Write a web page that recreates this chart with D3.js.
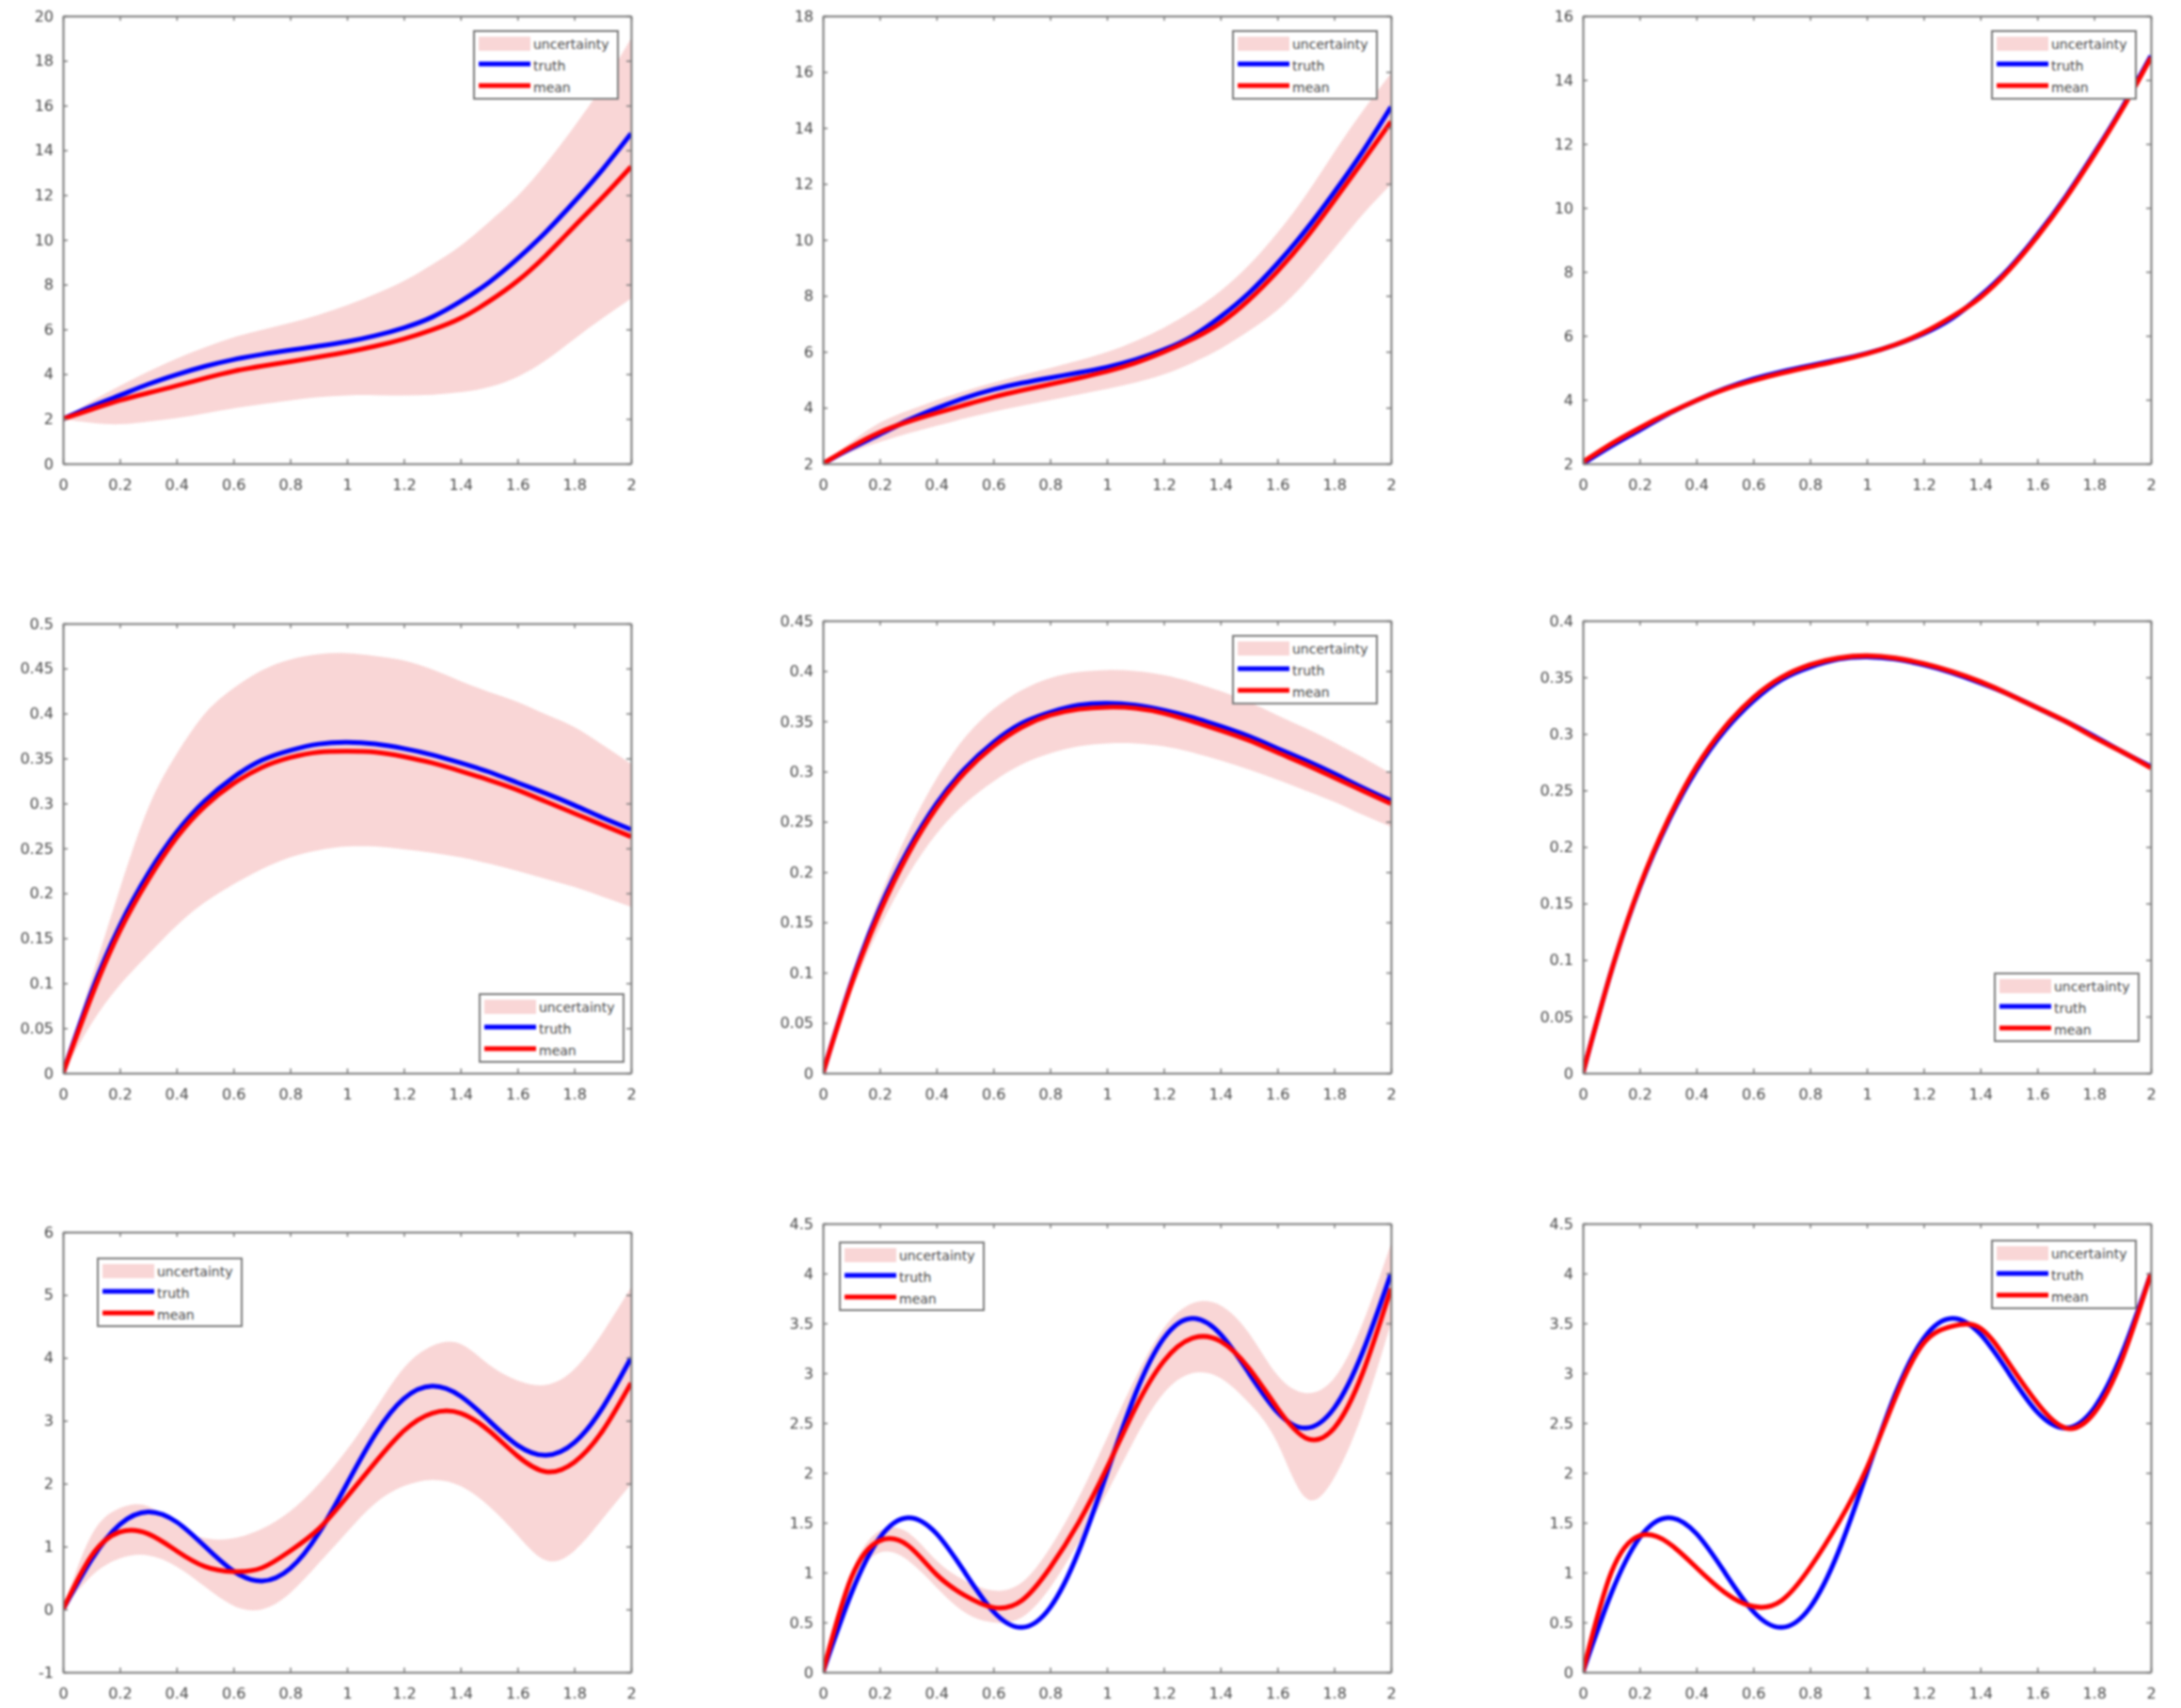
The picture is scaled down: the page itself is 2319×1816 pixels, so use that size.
<!DOCTYPE html>
<html>
<head>
<meta charset="utf-8">
<script src="https://cdn.jsdelivr.net/npm/d3@7/dist/d3.min.js"></script>
<style>
  body { margin: 0; background: #fff; }
  svg { display: block; filter: blur(0.8px); }
  text { font-family: "DejaVu Sans", Arial, sans-serif; }
</style>
</head>
<body>
<svg id="chart" width="2319" height="1816"></svg>
<script>
// sample positions along x
var xs = [0, 0.1, 0.2, 0.3, 0.4, 0.5, 0.6, 0.7, 0.8, 0.9, 1, 1.1, 1.2, 1.3, 1.4, 1.5, 1.6, 1.7, 1.8, 1.9, 2];
var xTicks = [0, 0.2, 0.4, 0.6, 0.8, 1, 1.2, 1.4, 1.6, 1.8, 2];
var legendLabels = ["uncertainty", "truth", "mean"];

// row 1 truth
var truth1 = [2.0, 2.55, 3.05, 3.55, 3.98, 4.35, 4.65, 4.88, 5.07, 5.25, 5.45, 5.72, 6.07, 6.55, 7.25, 8.1, 9.15, 10.35, 11.7, 13.15, 14.75];
// row 2 truth
var truth2 = [0, 0.09, 0.164, 0.222, 0.268, 0.303, 0.329, 0.348, 0.359, 0.366, 0.368, 0.366, 0.361, 0.354, 0.345, 0.335, 0.323, 0.311, 0.298, 0.284, 0.271];
// row 3 truth
var truth3 = [0, 0.79, 1.35, 1.55, 1.39, 1.0, 0.61, 0.45, 0.65, 1.21, 2.0, 2.79, 3.35, 3.55, 3.39, 3.0, 2.61, 2.45, 2.65, 3.21, 4.0];

var mean1 = [2.0, 2.42, 2.83, 3.16, 3.48, 3.82, 4.13, 4.36, 4.56, 4.77, 4.99, 5.25, 5.57, 5.98, 6.5, 7.25, 8.16, 9.3, 10.6, 11.9, 13.27];
var upper1 = [2.0, 2.78, 3.48, 4.12, 4.7, 5.2, 5.64, 5.98, 6.29, 6.65, 7.08, 7.58, 8.16, 8.9, 9.74, 10.8, 11.95, 13.4, 15.06, 16.9, 19.0];
var lower1 = [2.0, 1.83, 1.76, 1.88, 2.04, 2.25, 2.47, 2.66, 2.83, 2.97, 3.05, 3.06, 3.05, 3.08, 3.19, 3.42, 3.88, 4.62, 5.57, 6.5, 7.37];

var mean2 = [2.0, 2.6, 3.12, 3.5, 3.81, 4.1, 4.38, 4.62, 4.84, 5.06, 5.3, 5.6, 5.99, 6.45, 7.03, 7.85, 8.87, 10.05, 11.4, 12.8, 14.22];
var upper2 = [2.0, 2.78, 3.46, 3.9, 4.27, 4.6, 4.9, 5.17, 5.42, 5.69, 5.99, 6.38, 6.86, 7.45, 8.18, 9.1, 10.25, 11.6, 13.13, 14.6, 15.95];
var lower2 = [2.0, 2.42, 2.77, 3.08, 3.35, 3.62, 3.86, 4.07, 4.27, 4.47, 4.67, 4.9, 5.19, 5.6, 6.11, 6.75, 7.49, 8.5, 9.68, 10.9, 11.98];

var mean3 = [2.05, 2.62, 3.12, 3.57, 3.98, 4.33, 4.6, 4.83, 5.03, 5.22, 5.44, 5.72, 6.1, 6.6, 7.2, 8.05, 9.1, 10.3, 11.65, 13.1, 14.7];
var upper3 = [2.08, 2.66, 3.16, 3.61, 4.02, 4.37, 4.64, 4.87, 5.07, 5.26, 5.48, 5.76, 6.14, 6.65, 7.25, 8.1, 9.16, 10.37, 11.73, 13.2, 14.82];
var lower3 = [2.02, 2.58, 3.08, 3.53, 3.94, 4.29, 4.56, 4.79, 4.99, 5.18, 5.4, 5.68, 6.06, 6.55, 7.15, 8.0, 9.04, 10.23, 11.57, 13.0, 14.58];

var mean4 = [0, 0.085, 0.158, 0.215, 0.262, 0.297, 0.322, 0.34, 0.351, 0.357, 0.358, 0.357, 0.352, 0.345, 0.336, 0.326, 0.315, 0.302, 0.289, 0.276, 0.263];
var upper4 = [0, 0.105, 0.205, 0.295, 0.355, 0.4, 0.428, 0.448, 0.46, 0.466, 0.467, 0.464, 0.459, 0.449, 0.436, 0.424, 0.413, 0.399, 0.385, 0.365, 0.344];
var lower4 = [0, 0.055, 0.098, 0.132, 0.164, 0.19, 0.21, 0.227, 0.24, 0.248, 0.252, 0.252, 0.249, 0.245, 0.24, 0.233, 0.225, 0.216, 0.207, 0.196, 0.185];

var mean5 = [0, 0.088, 0.16, 0.218, 0.264, 0.299, 0.325, 0.344, 0.356, 0.362, 0.364, 0.363, 0.358, 0.35, 0.341, 0.331, 0.319, 0.307, 0.294, 0.281, 0.268];
var upper5 = [0, 0.095, 0.175, 0.24, 0.293, 0.334, 0.362, 0.381, 0.393, 0.399, 0.401, 0.4, 0.396, 0.389, 0.38, 0.369, 0.356, 0.343, 0.329, 0.314, 0.298];
var lower5 = [0, 0.08, 0.145, 0.197, 0.238, 0.268, 0.29, 0.307, 0.318, 0.325, 0.328, 0.328, 0.325, 0.319, 0.311, 0.302, 0.292, 0.281, 0.27, 0.257, 0.245];

var mean6 = [0, 0.09, 0.165, 0.224, 0.271, 0.306, 0.332, 0.35, 0.361, 0.367, 0.369, 0.367, 0.362, 0.355, 0.346, 0.335, 0.323, 0.311, 0.297, 0.284, 0.27];
var upper6 = [0, 0.092, 0.168, 0.227, 0.274, 0.309, 0.335, 0.353, 0.364, 0.37, 0.372, 0.37, 0.365, 0.358, 0.349, 0.338, 0.326, 0.314, 0.3, 0.287, 0.273];
var lower6 = [0, 0.088, 0.162, 0.221, 0.268, 0.303, 0.329, 0.347, 0.358, 0.364, 0.366, 0.364, 0.359, 0.352, 0.343, 0.332, 0.32, 0.308, 0.294, 0.281, 0.267];

var mean7 = [0, 0.85, 1.23, 1.2, 0.93, 0.68, 0.6, 0.66, 0.93, 1.28, 1.79, 2.34, 2.84, 3.12, 3.12, 2.84, 2.44, 2.19, 2.34, 2.84, 3.6];
var upper7 = [0, 1.18, 1.61, 1.64, 1.33, 1.13, 1.13, 1.28, 1.56, 1.99, 2.54, 3.19, 3.84, 4.19, 4.22, 3.89, 3.64, 3.57, 3.82, 4.4, 5.12];
var lower7 = [0, 0.53, 0.81, 0.86, 0.68, 0.36, 0.06, 0.0, 0.26, 0.73, 1.23, 1.69, 1.96, 2.06, 1.96, 1.64, 1.18, 0.78, 0.93, 1.44, 1.99];

var mean8 = [0, 0.95, 1.32, 1.27, 0.98, 0.77, 0.65, 0.72, 1.05, 1.5, 2.05, 2.65, 3.12, 3.35, 3.32, 3.05, 2.65, 2.35, 2.45, 3.0, 3.85];
var upper8 = [0, 1.0, 1.42, 1.4, 1.12, 0.92, 0.82, 0.9, 1.25, 1.75, 2.35, 2.95, 3.45, 3.7, 3.68, 3.4, 2.98, 2.8, 2.95, 3.5, 4.3];
var lower8 = [0, 0.85, 1.2, 1.12, 0.85, 0.6, 0.5, 0.55, 0.85, 1.3, 1.8, 2.35, 2.8, 3.0, 2.95, 2.7, 2.3, 1.75, 1.95, 2.6, 3.5];

var mean9 = [0, 1.0, 1.37, 1.3, 1.05, 0.8, 0.66, 0.72, 1.05, 1.5, 2.05, 2.75, 3.3, 3.47, 3.45, 3.1, 2.7, 2.45, 2.6, 3.15, 4.0];
var upper9 = [0, 1.02, 1.4, 1.33, 1.08, 0.83, 0.69, 0.75, 1.08, 1.53, 2.08, 2.78, 3.33, 3.5, 3.48, 3.13, 2.73, 2.48, 2.63, 3.18, 4.03];
var lower9 = [0, 0.98, 1.34, 1.27, 1.02, 0.77, 0.63, 0.69, 1.02, 1.47, 2.02, 2.72, 3.27, 3.44, 3.42, 3.07, 2.67, 2.42, 2.57, 3.12, 3.97];

// y axis ranges and tick steps per panel
var yDomains = [[0, 20], [2, 18], [2, 16], [0, 0.5], [0, 0.45], [0, 0.4], [-1, 6], [0, 4.5], [0, 4.5]];
var yStep = [2, 2, 2, 0.05, 0.05, 0.05, 1, 0.5, 0.5];

var truths = [truth1, truth1, truth1, truth2, truth2, truth2, truth3, truth3, truth3];
var means = [mean1, mean2, mean3, mean4, mean5, mean6, mean7, mean8, mean9];
var uppers = [upper1, upper2, upper3, upper4, upper5, upper6, upper7, upper8, upper9];
var lowers = [lower1, lower2, lower3, lower4, lower5, lower6, lower7, lower8, lower9];

// layout (pixels)
var colLeft = [67, 875, 1683];
var panelW = 604;
var rowBox = [[17, 493], [17, 493], [17, 493], [663, 1141], [660, 1141], [660, 1141], [1310, 1778], [1301, 1778], [1301, 1778]];
var legendPos = [[504, 33], [1311, 33], [2118, 33], [510, 1057], [1311, 676], [2121, 1035], [104, 1338], [893, 1321], [2118, 1319]];

var bandColor = "#f9d6d6";
var axisColor = "#7a7a7a";
var labelColor = "#474747";

var svg = d3.select("#chart");

function drawPanel(p) {
    var pLeft = colLeft[p % 3], pRight = pLeft + panelW;
    var pTop = rowBox[p][0], pBottom = rowBox[p][1];

    var x = d3.scaleLinear().domain([0, 2]).range([pLeft, pRight]);
    var y = d3.scaleLinear().domain(yDomains[p]).range([pBottom, pTop]);

    var yt = [];
    var nT = Math.round((yDomains[p][1] - yDomains[p][0]) / yStep[p]);
    for (var k = 0; k <= nT; k++) yt.push(Math.round((yDomains[p][0] + k * yStep[p]) * 1000) / 1000);

    var g = svg.append("g");

    var rows = xs.map(function(v, i) {
        return { x: v, t: truths[p][i], m: means[p][i], u: uppers[p][i], l: lowers[p][i] };
    });

    var clipId = "clip" + p;
    svg.append("clipPath").attr("id", clipId).append("rect")
        .attr("x", pLeft).attr("y", pTop).attr("width", panelW).attr("height", pBottom - pTop);

    var plot = g.append("g").attr("clip-path", "url(#" + clipId + ")");

    var area = d3.area()
        .x(function(d) { return x(d.x); })
        .y0(function(d) { return y(d.l); })
        .y1(function(d) { return y(d.u); })
        .curve(d3.curveNatural);

    plot.append("path").datum(rows)
        .attr("d", area)
        .attr("fill", bandColor);

    var lineT = d3.line().x(function(d) { return x(d.x); }).y(function(d) { return y(d.t); }).curve(d3.curveNatural);
    var lineM = d3.line().x(function(d) { return x(d.x); }).y(function(d) { return y(d.m); }).curve(d3.curveNatural);

    plot.append("path").datum(rows).attr("d", lineT)
        .attr("fill", "none").attr("stroke", "#0000ff").attr("stroke-width", 5);
    plot.append("path").datum(rows).attr("d", lineM)
        .attr("fill", "none").attr("stroke", "#ff0000").attr("stroke-width", 5);

    // axes, ticks point inward on all four sides
    var fmt = function(d) { return String(d); };
    var axB = g.append("g").attr("transform", "translate(0," + pBottom + ")")
        .call(d3.axisBottom(x).tickValues(xTicks).tickFormat(fmt).tickSizeInner(-5).tickSizeOuter(0).tickPadding(17));
    var axT = g.append("g").attr("transform", "translate(0," + pTop + ")")
        .call(d3.axisTop(x).tickValues(xTicks).tickFormat("").tickSizeInner(-5).tickSizeOuter(0));
    var axL = g.append("g").attr("transform", "translate(" + pLeft + ",0)")
        .call(d3.axisLeft(y).tickValues(yt).tickFormat(fmt).tickSizeInner(-5).tickSizeOuter(0).tickPadding(10));
    var axR = g.append("g").attr("transform", "translate(" + pRight + ",0)")
        .call(d3.axisRight(y).tickValues(yt).tickFormat("").tickSizeInner(-5).tickSizeOuter(0));

    [axB, axT, axL, axR].forEach(function(a) {
        a.select(".domain").attr("stroke", axisColor).attr("stroke-width", 2);
        a.selectAll(".tick line").attr("stroke", axisColor).attr("stroke-width", 1.5);
        a.selectAll(".tick text").attr("fill", labelColor).style("font-size", "16px")
            .style("font-family", "'DejaVu Sans', Arial, sans-serif");
    });

    // legend
    var lx = legendPos[p][0], ly = legendPos[p][1];
    var lg = g.append("g").attr("transform", "translate(" + lx + "," + ly + ")");
    lg.append("rect").attr("width", 153).attr("height", 72)
        .attr("fill", "#fff").attr("stroke", axisColor).attr("stroke-width", 2);
    lg.append("rect").attr("x", 5).attr("y", 6).attr("width", 55).attr("height", 15).attr("fill", bandColor);
    lg.append("line").attr("x1", 5).attr("x2", 60).attr("y1", 35).attr("y2", 35)
        .attr("stroke", "#0000ff").attr("stroke-width", 5);
    lg.append("line").attr("x1", 5).attr("x2", 60).attr("y1", 58).attr("y2", 58)
        .attr("stroke", "#ff0000").attr("stroke-width", 5);
    lg.selectAll("text.lab").data(legendLabels).enter().append("text")
        .attr("class", "lab")
        .attr("x", 63)
        .attr("y", function(d, i) { return 14 + i * 23; })
        .attr("dy", "0.35em")
        .attr("fill", labelColor)
        .style("font-size", "14px")
        .text(function(d) { return d; });
}

for (var p = 0; p < 9; p++) drawPanel(p);
</script>
</body>
</html>
